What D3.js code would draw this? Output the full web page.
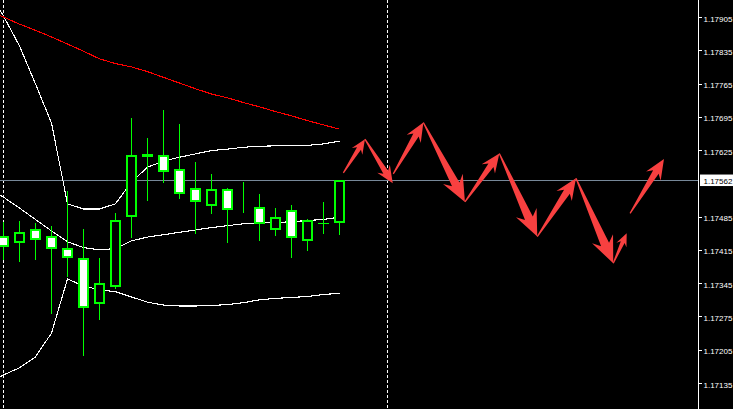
<!DOCTYPE html>
<html>
<head>
<meta charset="utf-8">
<script src="https://cdn.jsdelivr.net/npm/d3@7"></script>
<style>
  html, body { margin: 0; padding: 0; background: #000; overflow: hidden; }
  svg { display: block; }
</style>
</head>
<body>
<script>
// ---- Data (EURUSD-like candles) ----
const barIndex = d3.range(0, 22);
const opens  = [1.17444,1.17430,1.17460,1.17444,1.17418,1.17397,1.17301,1.17338,1.17485,1.17611,1.17614,1.17585,1.17545,1.17508,1.17543,1.17505,1.17506,1.17456,1.17500,1.17433,1.17471,1.17471];
const highs  = [1.17474,1.17476,1.17472,1.17465,1.17539,1.17459,1.17399,1.17493,1.17693,1.17650,1.17709,1.17680,1.17600,1.17575,1.17545,1.17558,1.17533,1.17503,1.17509,1.17480,1.17516,1.17562];
const lows   = [1.17396,1.17392,1.17396,1.17283,1.17360,1.17194,1.17269,1.17335,1.17443,1.17521,1.17558,1.17525,1.17450,1.17492,1.17432,1.17495,1.17436,1.17447,1.17401,1.17415,1.17451,1.17449];
const closes = [1.17422,1.17452,1.17435,1.17416,1.17397,1.17292,1.17345,1.17478,1.17614,1.17617,1.17578,1.17533,1.17515,1.17543,1.17498,1.17510,1.17469,1.17484,1.17441,1.17477,1.17471,1.17562];

// indicator lines, first value belongs to bar -1 (off-screen left)
const lineStart = -1;
const redMA     = [1.17918,1.17905,1.17890,1.17877,1.17863,1.17848,1.17833,1.17817,1.17807,1.17800,1.17790,1.17778,1.17766,1.17754,1.17743,1.17735,1.17725,1.17716,1.17706,1.17697,1.17687,1.17678,1.17669];
const bandUpper = [1.17964,1.17907,1.17844,1.17764,1.17682,1.17512,1.17501,1.17501,1.17512,1.17558,1.17589,1.17602,1.17610,1.17617,1.17624,1.17627,1.17631,1.17633,1.17634,1.17634,1.17635,1.17638,1.17644];
const bandMid   = [1.17547,1.17526,1.17503,1.17479,1.17455,1.17432,1.17420,1.17415,1.17418,1.17434,1.17442,1.17447,1.17452,1.17457,1.17462,1.17466,1.17470,1.17471,1.17473,1.17474,1.17477,1.17479,1.17484];
const bandLower = [1.17135,1.17152,1.17167,1.17190,1.17240,1.17354,1.17339,1.17331,1.17327,1.17316,1.17305,1.17299,1.17297,1.17297,1.17298,1.17300,1.17304,1.17310,1.17313,1.17315,1.17317,1.17321,1.17324];

// period separators (bar index)
const separators = [0, 24];

// price axis tick labels
const priceTicks = [1.17905,1.17835,1.17765,1.17695,1.17625,1.17485,1.17415,1.17345,1.17275,1.17205,1.17135];
const currentPrice = 1.17562;

// forecast arrows: chains of [bar index, price]
const arrowChains = [
  [[21.24,1.17577],[22.59,1.17648],[24.33,1.17555]],
  [[24.36,1.17575],[26.24,1.17683],[28.84,1.17516],[30.99,1.17618],[33.36,1.17443],[35.78,1.17566],[38.11,1.17387],[38.95,1.17450]],
  [[39.16,1.17492],[41.28,1.17606]]
];

// ---- Drawing ----
const W = 733, H = 409, plotRight = 698;
const svg = d3.select('body').append('svg').attr('width', W).attr('height', H)
  .style('background', '#000');

const x = d3.scaleLinear().domain([-0.21875, 43.40625]).range([0, plotRight]);
const y = d3.scaleLinear().domain([1.17135, 1.17905]).range([383, 17]);

svg.append('defs').append('clipPath').attr('id', 'plot')
  .append('rect').attr('x', 0).attr('y', 0).attr('width', plotRight).attr('height', H);

const plot = svg.append('g').attr('clip-path', 'url(#plot)');

// period separators
plot.selectAll('line.sep').data(separators).join('line')
  .attr('class', 'sep')
  .attr('x1', d => Math.floor(x(d)) + 0.5).attr('x2', d => Math.floor(x(d)) + 0.5)
  .attr('y1', 0).attr('y2', H)
  .attr('stroke', '#fff').attr('stroke-width', 1)
  .attr('stroke-dasharray', '3,2');

// current price line
plot.append('line')
  .attr('x1', 0).attr('x2', plotRight)
  .attr('y1', Math.round(y(currentPrice)) + 0.5).attr('y2', Math.round(y(currentPrice)) + 0.5)
  .attr('stroke', '#778899').attr('stroke-width', 1);

// indicator lines
const lineGen = d3.line().x((d, i) => x(i + lineStart)).y(d => y(d));
[[bandUpper, '#fff'], [bandMid, '#fff'], [bandLower, '#fff'], [redMA, '#ff0000']].forEach(([arr, col]) => {
  plot.append('path').datum(arr)
    .attr('d', lineGen)
    .attr('fill', 'none').attr('stroke', col).attr('stroke-width', 1.1)
    .attr('shape-rendering', 'crispEdges');
});

// candles
const candles = barIndex.map(i => ({ i, o: opens[i], h: highs[i], l: lows[i], c: closes[i] }));
const cg = plot.append('g').attr('shape-rendering', 'crispEdges');
cg.selectAll('line.wick').data(candles).join('line')
  .attr('class', 'wick')
  .attr('x1', d => Math.floor(x(d.i)) + 0.5).attr('x2', d => Math.floor(x(d.i)) + 0.5)
  .attr('y1', d => Math.round(y(d.h))).attr('y2', d => Math.round(y(d.l)) + 1)
  .attr('stroke', '#00ff00').attr('stroke-width', 1);

candles.forEach(d => {
  const cx = Math.floor(x(d.i));
  if (d.o === d.c) {
    const yy = Math.round(y(d.o)) + 0.5;
    cg.append('line').attr('x1', cx - 5).attr('x2', cx + 6).attr('y1', yy).attr('y2', yy)
      .attr('stroke', '#00ff00').attr('stroke-width', 1);
  } else {
    const yt = Math.round(y(Math.max(d.o, d.c)));
    const yb = Math.round(y(Math.min(d.o, d.c)));
    cg.append('rect')
      .attr('x', cx - 4).attr('width', 9)
      .attr('y', yt + 1).attr('height', Math.max(0, yb - yt - 2))
      .attr('fill', d.c > d.o ? '#000' : '#fff')
      .attr('stroke', '#00ff00').attr('stroke-width', 2);
  }
});

// forecast arrows
function arrowPath(p0, p1) {
  const x0 = x(p0[0]), y0 = y(p0[1]), x1 = x(p1[0]), y1 = y(p1[1]);
  const dx = x1 - x0, dy = y1 - y0, L = Math.hypot(dx, dy);
  const ux = dx / L, uy = dy / L, vx = -uy, vy = ux;
  const hl = 0.22 * L + 5, hw = hl * 0.45, sw = hl * 0.17;
  const P = (u, v) => [x0 + ux * u + vx * v, y0 + uy * u + vy * v];
  const pts = [P(0, 0.6), P(L - hl * 0.8, sw), P(L - hl * 1.05, hw), P(L, 0),
               P(L - hl * 1.05, -hw), P(L - hl * 0.8, -sw), P(0, -0.6)];
  return 'M' + pts.map(p => p[0].toFixed(2) + ',' + p[1].toFixed(2)).join('L') + 'Z';
}
const ag = plot.append('g');
arrowChains.forEach(chain => {
  for (let k = 0; k < chain.length - 1; k++) {
    ag.append('path').attr('d', arrowPath(chain[k], chain[k + 1])).attr('fill', '#f84040');
  }
});

// price axis
svg.append('line').attr('x1', plotRight + 0.5).attr('x2', plotRight + 0.5)
  .attr('y1', 0).attr('y2', H).attr('stroke', '#fff').attr('stroke-width', 1);

const axis = d3.axisRight(y).tickValues(priceTicks).tickSize(3).tickSizeOuter(0)
  .tickPadding(1.5).tickFormat(d3.format('.5f'));
const ag2 = svg.append('g').attr('transform', `translate(${plotRight + 1},0)`).call(axis);
ag2.select('.domain').remove();
ag2.selectAll('.tick line').attr('stroke', '#fff').attr('shape-rendering', 'crispEdges');
ag2.selectAll('.tick text').attr('fill', '#fff').attr('dy', '0.5em')
  .style('font-family', '"Liberation Sans", Arial, sans-serif').style('font-size', '8px');

// current price label
const yc = y(currentPrice);
svg.append('rect').attr('x', 700).attr('y', yc - 5.5).attr('width', 40).attr('height', 11.5)
  .attr('fill', '#fff');
svg.append('text').attr('x', 703.5).attr('y', yc + 4)
  .attr('fill', '#000')
  .style('font-family', '"Liberation Sans", Arial, sans-serif').style('font-size', '8px')
  .text(d3.format('.5f')(currentPrice));
</script>
</body>
</html>
